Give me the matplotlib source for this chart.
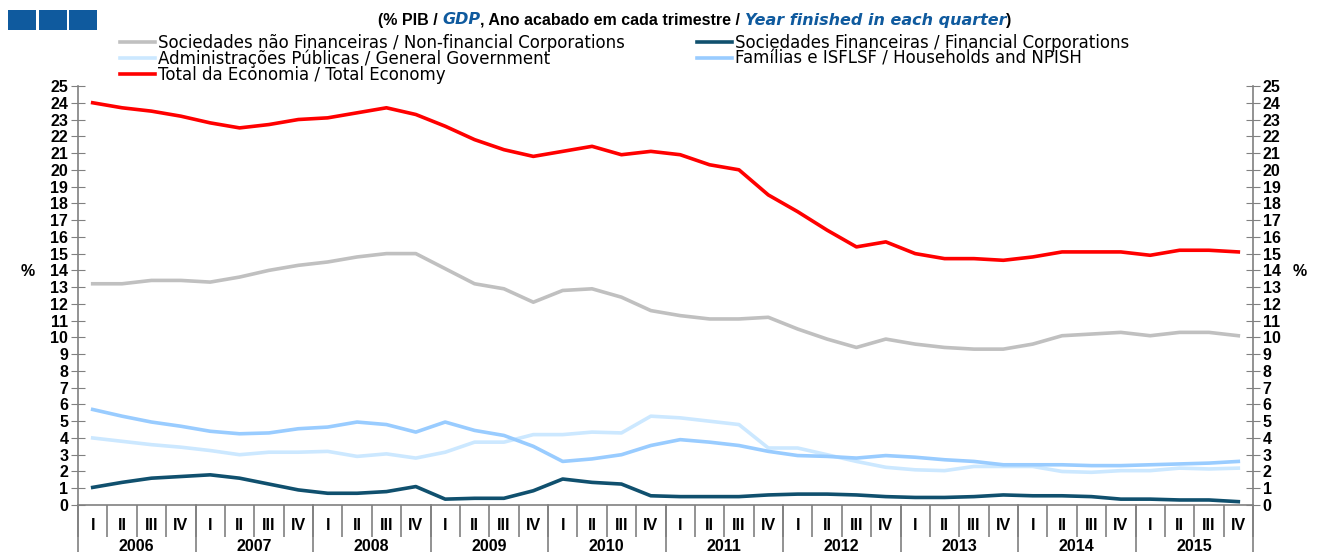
import matplotlib
matplotlib.use("Agg")
import matplotlib.pyplot as plt
import matplotlib.transforms as mtransforms

plt.rcParams['font.family'] = ['Liberation Sans Narrow', 'Liberation Sans', 'DejaVu Sans']
plt.rcParams['font.weight'] = 'bold'

years = ["2006", "2007", "2008", "2009", "2010", "2011", "2012", "2013", "2014", "2015"]
quarters = ["I", "II", "III", "IV"]

## series (% GDP)
non_financial = [13.2, 13.2, 13.4, 13.4, 13.3, 13.6, 14.0, 14.3, 14.5, 14.8, 15.0, 15.0,
                 14.1, 13.2, 12.9, 12.1, 12.8, 12.9, 12.4, 11.6, 11.3, 11.1, 11.1, 11.2,
                 10.5, 9.9, 9.4, 9.9, 9.6, 9.4, 9.3, 9.3, 9.6, 10.1, 10.2, 10.3,
                 10.1, 10.3, 10.3, 10.1]
financial = [1.05, 1.35, 1.6, 1.7, 1.8, 1.6, 1.25, 0.9, 0.7, 0.7, 0.8, 1.1,
             0.35, 0.4, 0.4, 0.85, 1.55, 1.35, 1.25, 0.55, 0.5, 0.5, 0.5, 0.6,
             0.65, 0.65, 0.6, 0.5, 0.45, 0.45, 0.5, 0.6, 0.55, 0.55, 0.5, 0.35,
             0.35, 0.3, 0.3, 0.2]
government = [4.0, 3.8, 3.6, 3.45, 3.25, 3.0, 3.15, 3.15, 3.2, 2.9, 3.05, 2.8,
              3.15, 3.75, 3.75, 4.2, 4.2, 4.35, 4.3, 5.3, 5.2, 5.0, 4.8, 3.4,
              3.4, 3.0, 2.6, 2.25, 2.1, 2.05, 2.3, 2.3, 2.3, 2.0, 1.95, 2.05,
              2.05, 2.2, 2.15, 2.2]
households = [5.7, 5.3, 4.95, 4.7, 4.4, 4.25, 4.3, 4.55, 4.65, 4.95, 4.8, 4.35,
              4.95, 4.45, 4.15, 3.5, 2.6, 2.75, 3.0, 3.55, 3.9, 3.75, 3.55, 3.2,
              2.95, 2.9, 2.8, 2.95, 2.85, 2.7, 2.6, 2.4, 2.4, 2.4, 2.35, 2.35,
              2.4, 2.45, 2.5, 2.6]
total = [24.0, 23.7, 23.5, 23.2, 22.8, 22.5, 22.7, 23.0, 23.1, 23.4, 23.7, 23.3,
         22.6, 21.8, 21.2, 20.8, 21.1, 21.4, 20.9, 21.1, 20.9, 20.3, 20.0, 18.5,
         17.5, 16.4, 15.4, 15.7, 15.0, 14.7, 14.7, 14.6, 14.8, 15.1, 15.1, 15.1,
         14.9, 15.2, 15.2, 15.1]
##

labels = ["Sociedades não Financeiras / Non-financial Corporations",
          "Administrações Públicas / General Government",
          "Total da Economia / Total Economy",
          "Sociedades Financeiras / Financial Corporations",
          "Famílias e ISFLSF / Households and NPISH"]

n = len(total)
x = list(range(n))
axis_grey = "#808080"
blue = "#0f5a9e"

fig = plt.figure(figsize=(13.18, 5.52), dpi=100)
ax = fig.add_axes([78 / 1318, 1 - 505 / 552, 1175 / 1318, 419 / 552])

lw = 2.6
l_nf, = ax.plot(x, non_financial, color="#c0c0c0", lw=lw, label=labels[0])
l_gov, = ax.plot(x, government, color="#cce8ff", lw=lw, label=labels[1])
l_hh, = ax.plot(x, households, color="#99ccff", lw=lw, label=labels[4])
l_fin, = ax.plot(x, financial, color="#10506e", lw=lw, label=labels[3])
l_tot, = ax.plot(x, total, color="#ff0000", lw=lw, label=labels[2])

ax.set_xlim(-0.5, n - 0.5)
ax.set_ylim(0, 25)
ax.set_yticks(range(0, 26))
ax.tick_params(axis="y", direction="inout", length=10, color=axis_grey,
               labelsize=11.5, left=True, right=True, labelleft=True, labelright=True, pad=2)
for t in ax.get_yticklabels():
    t.set_fontweight("bold")

ax.spines["top"].set_visible(False)
for s in ["left", "right", "bottom"]:
    ax.spines[s].set_color(axis_grey)
    ax.spines[s].set_linewidth(1.2)

# x axis: quarters and years
ax.set_xticks([i - 0.5 for i in range(n + 1)])
ax.set_xticklabels([])
ax.tick_params(axis="x", which="major", direction="out", length=23, color=axis_grey, width=1.2)
ax.set_xticks(x, minor=True)
ax.set_xticklabels([quarters[i % 4] for i in x], minor=True, fontsize=11.5, fontweight="bold")
ax.tick_params(axis="x", which="minor", length=0, pad=9)

trans = mtransforms.blended_transform_factory(ax.transData, ax.transAxes)
for k in range(len(years) + 1):
    ax.plot([4 * k - 0.5, 4 * k - 0.5], [0, -0.12], transform=trans, color=axis_grey,
            lw=1.2, clip_on=False)
for k, yr in enumerate(years):
    ax.text(4 * k + 1.5, -0.1, yr, transform=trans, ha="center", va="center",
            fontsize=11.5, fontweight="bold")

fig.text(28 / 1318, 1 - 272 / 552, "%", ha="center", va="center", fontsize=11.5, fontweight="bold")
fig.text(1300 / 1318, 1 - 272 / 552, "%", ha="center", va="center", fontsize=11.5, fontweight="bold")

# legend
leg = fig.legend([l_nf, l_gov, l_tot, l_fin, l_hh],
                 [labels[0], labels[1], labels[2], labels[3], labels[4]],
                 ncol=2, loc="upper left", bbox_to_anchor=(120 / 1318, 1 - 34 / 552),
                 frameon=False, handlelength=2.1, handletextpad=0.18, columnspacing=4.3,
                 labelspacing=-0.13, borderpad=0, borderaxespad=0,
                 prop={"size": 12, "weight": "normal", "family": "DejaVu Sans"})

# title with mixed styles
parts = [("(% PIB / ", "black", "normal"), ("GDP", blue, "italic"),
         (", Ano acabado em cada trimestre / ", "black", "normal"),
         ("Year finished in each quarter", blue, "italic"), (")", "black", "normal")]
prev = fig.text(378 / 1318, 1 - 20 / 552, parts[0][0], ha="left", va="center",
                fontsize=11.5, fontweight="bold", color=parts[0][1])
for txt, col, sty in parts[1:]:
    prev = plt.annotate(txt, xy=(1, 0.5), xycoords=prev, ha="left", va="center",
                        fontsize=11.5, fontweight="bold", color=col, style=sty,
                        family=["DejaVu Sans"] if sty == "italic" else None)

# blue squares top left
for x0 in [8, 39, 69]:
    fig.patches.append(plt.Rectangle((x0 / 1318, 1 - 30 / 552), 28 / 1318, 20 / 552,
                                     transform=fig.transFigure, facecolor=blue,
                                     edgecolor="none", figure=fig))

fig.savefig("out.png", dpi=100)
